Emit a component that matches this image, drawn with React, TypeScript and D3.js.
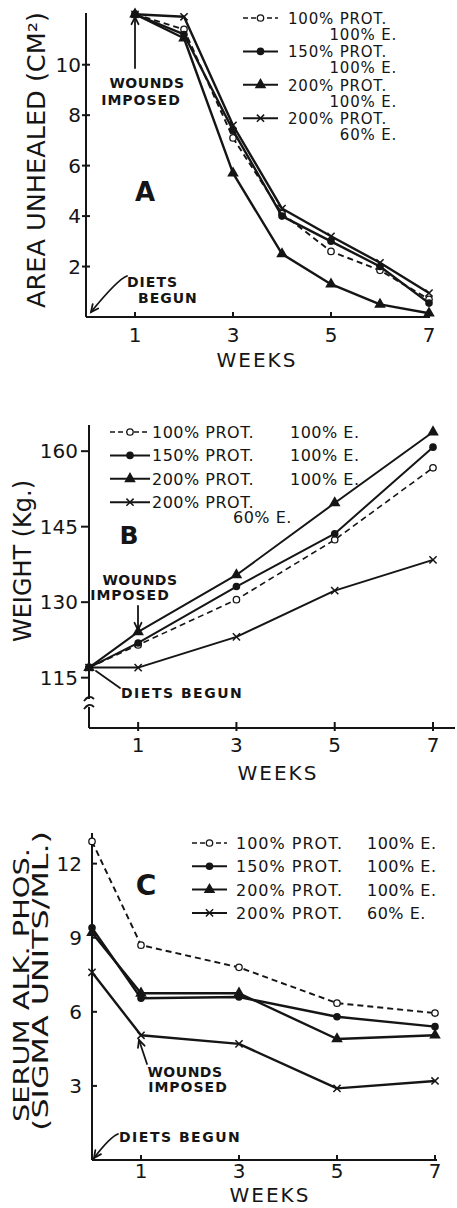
import React from "react";
import * as d3 from "d3";

const FONT = "'DejaVu Sans', 'Liberation Sans', sans-serif";
const INK = "#151515";

// Diet groups shared by the three panels
const dietProtein = ["100% PROT.", "150% PROT.", "200% PROT.", "200% PROT."];
const dietEnergy = ["100% E.", "100% E.", "100% E.", "60% E."];
type Mark = "open" | "filled" | "triangle" | "cross";
const dietMarks: Mark[] = ["open", "filled", "triangle", "cross"];

// A: wound area still unhealed (cm²)
const weeksA = [1, 2, 3, 4, 5, 6, 7];
const areaP100 = [12.0, 11.4, 7.1, 4.1, 2.6, 1.85, 0.7];
const areaP150 = [12.0, 11.2, 7.4, 4.0, 3.0, 2.0, 0.55];
const areaP200 = [12.0, 11.05, 5.7, 2.5, 1.3, 0.5, 0.15];
const areaP200E60 = [12.0, 11.9, 7.6, 4.3, 3.2, 2.15, 0.95];
const areaTicks = [2, 4, 6, 8, 10];

// B: body weight (kg)
const weeksB = [0, 1, 3, 5, 7];
const weightP100 = [117, 121.5, 130.5, 142.4, 156.7];
const weightP150 = [117, 121.9, 133.1, 143.6, 160.8];
const weightP200 = [117, 124.1, 135.4, 149.7, 163.8];
const weightP200E60 = [117, 117, 123.1, 132.3, 138.4];
const weightTicks = [115, 130, 145, 160];

// C: serum alkaline phosphatase (Sigma units/ml)
const weeksC = [0, 1, 3, 5, 7];
const phosP100 = [12.9, 8.7, 7.8, 6.35, 5.95];
const phosP150 = [9.4, 6.55, 6.6, 5.8, 5.4];
const phosP200 = [9.2, 6.75, 6.75, 4.9, 5.05];
const phosP200E60 = [7.6, 5.05, 4.7, 2.9, 3.2];
const phosTicks = [3, 6, 9, 12];

const weekTicks = [1, 3, 5, 7];

type Scale = d3.ScaleLinear<number, number>;

function Marker({ kind, x, y }: { kind: Mark; x: number; y: number }) {
  if (kind === "open")
    return <circle cx={x} cy={y} r={3.2} fill="#fff" stroke={INK} strokeWidth={1.3} />;
  if (kind === "filled") return <circle cx={x} cy={y} r={3.8} fill={INK} />;
  if (kind === "triangle")
    return (
      <path
        d={d3.symbol(d3.symbolTriangle, 58)() || ""}
        transform={`translate(${x},${y})`}
        fill={INK}
      />
    );
  const s = 3.6;
  return (
    <path
      d={`M${x - s},${y - s}L${x + s},${y + s}M${x - s},${y + s}L${x + s},${y - s}`}
      stroke={INK}
      strokeWidth={1.5}
    />
  );
}

function Series({
  weeks,
  values,
  x,
  y,
  kind,
  width,
}: {
  weeks: number[];
  values: number[];
  x: Scale;
  y: Scale;
  kind: Mark;
  width: number;
}) {
  const line = d3
    .line<number>()
    .x((_, i) => x(weeks[i]))
    .y((v) => y(v));
  const dashed = kind === "open";
  return (
    <g>
      <path
        d={line(values) || ""}
        fill="none"
        stroke={INK}
        strokeWidth={dashed ? width * 0.8 : width}
        strokeDasharray={dashed ? "6 4" : undefined}
        strokeLinejoin="round"
      />
      {values.map((v, i) => (
        <Marker key={i} kind={kind} x={x(weeks[i])} y={y(v)} />
      ))}
    </g>
  );
}

function LegendKey({ kind, x1, x2, y }: { kind: Mark; x1: number; x2: number; y: number }) {
  return (
    <g>
      <line
        x1={x1}
        x2={x2}
        y1={y}
        y2={y}
        stroke={INK}
        strokeWidth={kind === "open" ? 1.5 : 2}
        strokeDasharray={kind === "open" ? "5 3" : undefined}
      />
      <Marker kind={kind} x={(x1 + x2) / 2} y={y} />
    </g>
  );
}

// Leader path with a V-shaped head at its end point (tx,ty), arriving from (px,py)
function Arrow({ d, tx, ty, px, py, head = true }: { d: string; tx: number; ty: number; px: number; py: number; head?: boolean }) {
  const a = Math.atan2(ty - py, tx - px);
  const L = 8;
  const h1 = [tx - L * Math.cos(a - 0.45), ty - L * Math.sin(a - 0.45)];
  const h2 = [tx - L * Math.cos(a + 0.45), ty - L * Math.sin(a + 0.45)];
  return (
    <g fill="none" stroke={INK} strokeWidth={1.8} strokeLinecap="round">
      <path d={d} />
      {head && <path d={`M${h1[0]},${h1[1]}L${tx},${ty}L${h2[0]},${h2[1]}`} />}
    </g>
  );
}

const txt = { fontFamily: FONT, fill: INK } as const;

function XAxis({ x, y0, x0, x1, tickUp, tickDown, labelY, titleX, titleY }: {
  x: Scale; y0: number; x0: number; x1: number; tickUp: number; tickDown: number; labelY: number; titleX: number; titleY: number;
}) {
  return (
    <g>
      <line x1={x0} x2={x1} y1={y0} y2={y0} stroke={INK} strokeWidth={2} />
      {weekTicks.map((w) => (
        <g key={w}>
          <line x1={x(w)} x2={x(w)} y1={y0 - tickUp} y2={y0 + tickDown} stroke={INK} strokeWidth={2} />
          <text {...txt} x={x(w)} y={labelY} fontSize={20} textAnchor="middle">
            {w}
          </text>
        </g>
      ))}
      <text {...txt} x={titleX} y={titleY} fontSize={20} textAnchor="middle" letterSpacing={2}>
        WEEKS
      </text>
    </g>
  );
}

function YTicks({ y, ticks, x0, left, right, labelX }: { y: Scale; ticks: number[]; x0: number; left: number; right: number; labelX: number }) {
  return (
    <g>
      {ticks.map((t) => (
        <g key={t}>
          <line x1={x0 - left} x2={x0 + right} y1={y(t)} y2={y(t)} stroke={INK} strokeWidth={2} />
          <text {...txt} x={labelX} y={y(t) + 7} fontSize={20} textAnchor="end">
            {t}
          </text>
        </g>
      ))}
    </g>
  );
}

function PanelA() {
  const x = d3.scaleLinear().domain([0, 7]).range([86, 429]);
  const y = d3.scaleLinear().domain([0, 12.05]).range([317, 13]);
  const series = [areaP100, areaP150, areaP200, areaP200E60];
  return (
    <g>
      <line x1={86} x2={86} y1={13} y2={317} stroke={INK} strokeWidth={2} />
      <YTicks y={y} ticks={areaTicks} x0={86} left={4} right={4} labelX={81} />
      <XAxis x={x} y0={317} x0={86} x1={430} tickUp={5} tickDown={0} labelY={342} titleX={257} titleY={367} />
      <text {...txt} transform="translate(45,160) rotate(-90)" fontSize={24} textAnchor="middle" textLength={296} lengthAdjust="spacingAndGlyphs">
        AREA UNHEALED (CM²)
      </text>
      {series.map((s, i) => (
        <Series key={i} weeks={weeksA} values={s} x={x} y={y} kind={dietMarks[i]} width={2.4} />
      ))}
      <text {...txt} x={145} y={201} fontSize={26} fontWeight="bold" textAnchor="middle">A</text>
      <text {...txt} x={147} y={88} fontSize={14} fontWeight="bold" textAnchor="middle" letterSpacing={0.5}>WOUNDS</text>
      <text {...txt} x={141} y={105} fontSize={14} fontWeight="bold" textAnchor="middle" letterSpacing={1}>IMPOSED</text>
      <Arrow d="M135,68L135,17" tx={135} ty={17} px={135} py={68} />
      <text {...txt} x={127} y={287} fontSize={14} fontWeight="bold" letterSpacing={1}>DIETS</text>
      <text {...txt} x={138} y={303} fontSize={14} fontWeight="bold" letterSpacing={1}>BEGUN</text>
      <Arrow d="M127,276Q118,279 91,312" tx={91} ty={312} px={105} py={294} />
      {dietProtein.map((p, i) => {
        const ry = 18 + i * 33.4;
        return (
          <g key={i}>
            <LegendKey kind={dietMarks[i]} x1={243} x2={278} y={ry} />
            <text {...txt} x={288} y={ry + 6} fontSize={15} letterSpacing={0.8}>{p}</text>
            <text {...txt} x={397} y={ry + 22} fontSize={15} textAnchor="end" letterSpacing={0.8}>{dietEnergy[i]}</text>
          </g>
        );
      })}
    </g>
  );
}

function PanelB() {
  const x = d3.scaleLinear().domain([0, 7]).range([89, 433]);
  const y = d3.scaleLinear().domain([105, 165.2]).range([728, 425]);
  const series = [weightP100, weightP150, weightP200, weightP200E60];
  return (
    <g>
      <line x1={89} x2={89} y1={425} y2={699} stroke={INK} strokeWidth={2} />
      <line x1={89} x2={89} y1={707} y2={728} stroke={INK} strokeWidth={2} />
      <path d="M84,701Q89,694 94,699M84,709Q89,702 94,707" fill="none" stroke={INK} strokeWidth={1.8} />
      <YTicks y={y} ticks={weightTicks} x0={89} left={8} right={0} labelX={78} />
      <XAxis x={x} y0={728} x0={89} x1={455} tickUp={6} tickDown={3} labelY={752} titleX={278} titleY={780} />
      <text {...txt} transform="translate(31,561) rotate(-90)" fontSize={24} textAnchor="middle" textLength={162} lengthAdjust="spacingAndGlyphs">
        WEIGHT (Kg.)
      </text>
      {series.map((s, i) => (
        <Series key={i} weeks={weeksB} values={s} x={x} y={y} kind={dietMarks[i]} width={2} />
      ))}
      <text {...txt} x={129} y={544} fontSize={25} fontWeight="bold" textAnchor="middle">B</text>
      <text {...txt} x={140} y={585} fontSize={14} fontWeight="bold" textAnchor="middle" letterSpacing={0.5}>WOUNDS</text>
      <text {...txt} x={130} y={600} fontSize={14} fontWeight="bold" textAnchor="middle" letterSpacing={1}>IMPOSED</text>
      <Arrow d="M138,606L138,630" tx={138} ty={630} px={138} py={606} />
      <text {...txt} x={121} y={698} fontSize={14} fontWeight="bold" letterSpacing={1.5}>DIETS BEGUN</text>
      <Arrow d="M120,688L96,671" tx={96} ty={671} px={120} py={688} head={false} />
      {dietProtein.map((p, i) => {
        const ry = 432 + i * 23.4;
        const last = i === dietProtein.length - 1;
        return (
          <g key={i}>
            <LegendKey kind={dietMarks[i]} x1={110} x2={150} y={ry} />
            <text {...txt} x={152} y={ry + 6} fontSize={16} letterSpacing={0.5}>{p}</text>
            <text {...txt} x={last ? 233 : 290} y={last ? ry + 21 : ry + 6} fontSize={16} letterSpacing={0.5}>{dietEnergy[i]}</text>
          </g>
        );
      })}
    </g>
  );
}

function PanelC() {
  const x = d3.scaleLinear().domain([0, 7]).range([92, 435]);
  const y = d3.scaleLinear().domain([0, 13.24]).range([1160, 833]);
  const series = [phosP100, phosP150, phosP200, phosP200E60];
  return (
    <g>
      <line x1={92} x2={92} y1={833} y2={1160} stroke={INK} strokeWidth={2} />
      <YTicks y={y} ticks={phosTicks} x0={92} left={0} right={5} labelX={82} />
      <XAxis x={x} y0={1160} x0={92} x1={437} tickUp={5} tickDown={0} labelY={1178} titleX={270} titleY={1202} />
      <text {...txt} transform="translate(29,985) rotate(-90)" fontSize={22} textAnchor="middle" textLength={274} lengthAdjust="spacingAndGlyphs">
        SERUM ALK. PHOS.
      </text>
      <text {...txt} transform="translate(48,981) rotate(-90)" fontSize={22} textAnchor="middle" textLength={300} lengthAdjust="spacingAndGlyphs">
        (SIGMA UNITS/ML.)
      </text>
      {series.map((s, i) => (
        <Series key={i} weeks={weeksC} values={s} x={x} y={y} kind={dietMarks[i]} width={2.4} />
      ))}
      <text {...txt} x={146} y={895} fontSize={28} fontWeight="bold" textAnchor="middle">C</text>
      <text {...txt} x={185} y={1077} fontSize={14} fontWeight="bold" textAnchor="middle" letterSpacing={0.5}>WOUNDS</text>
      <text {...txt} x={188} y={1092} fontSize={14} fontWeight="bold" textAnchor="middle" letterSpacing={1}>IMPOSED</text>
      <Arrow d="M147,1064L139,1040" tx={139} ty={1040} px={147} py={1064} />
      <text {...txt} x={119} y={1142} fontSize={14} fontWeight="bold" letterSpacing={1.5}>DIETS BEGUN</text>
      <Arrow d="M118,1134Q110,1137 94,1158" tx={94} ty={1158} px={104} py={1144} />
      {dietProtein.map((p, i) => {
        const ry = 843 + i * 23.3;
        return (
          <g key={i}>
            <LegendKey kind={dietMarks[i]} x1={192} x2={227} y={ry} />
            <text {...txt} x={236} y={ry + 6} fontSize={16} letterSpacing={1}>{p}</text>
            <text {...txt} x={367} y={ry + 6} fontSize={16} letterSpacing={0.5}>{dietEnergy[i]}</text>
          </g>
        );
      })}
    </g>
  );
}

export default function App() {
  return (
    <svg
      width={457}
      height={1208}
      viewBox="0 0 457 1208"
      style={{ position: "absolute", left: 0, top: 0, background: "#fff" }}
    >
      <rect width={457} height={1208} fill="#fff" />
      <PanelA />
      <PanelB />
      <PanelC />
    </svg>
  );
}
